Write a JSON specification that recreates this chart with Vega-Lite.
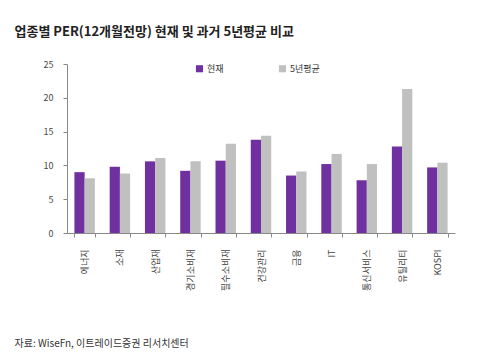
{
  "$schema": "https://vega.github.io/schema/vega-lite/v6.json",
  "width": 388,
  "height": 169,
  "autosize": {"type": "none"},
  "padding": {"left": 67, "top": 64, "right": 45, "bottom": 126},
  "background": "white",
  "config": {
    "font": "Noto Sans CJK KR",
    "view": {"stroke": null}
  },
  "data": {
    "values": [
      {"sector": "에너지", "series": "현재", "per": 9.0},
      {"sector": "에너지", "series": "5년평균", "per": 8.1},
      {"sector": "소재", "series": "현재", "per": 9.8},
      {"sector": "소재", "series": "5년평균", "per": 8.8},
      {"sector": "산업재", "series": "현재", "per": 10.6},
      {"sector": "산업재", "series": "5년평균", "per": 11.1},
      {"sector": "경기소비재", "series": "현재", "per": 9.2},
      {"sector": "경기소비재", "series": "5년평균", "per": 10.6},
      {"sector": "필수소비재", "series": "현재", "per": 10.7},
      {"sector": "필수소비재", "series": "5년평균", "per": 13.2},
      {"sector": "건강관리", "series": "현재", "per": 13.8},
      {"sector": "건강관리", "series": "5년평균", "per": 14.4},
      {"sector": "금융", "series": "현재", "per": 8.5},
      {"sector": "금융", "series": "5년평균", "per": 9.1},
      {"sector": "IT", "series": "현재", "per": 10.2},
      {"sector": "IT", "series": "5년평균", "per": 11.7},
      {"sector": "통신서비스", "series": "현재", "per": 7.8},
      {"sector": "통신서비스", "series": "5년평균", "per": 10.2},
      {"sector": "유틸리티", "series": "현재", "per": 12.8},
      {"sector": "유틸리티", "series": "5년평균", "per": 21.3},
      {"sector": "KOSPI", "series": "현재", "per": 9.7},
      {"sector": "KOSPI", "series": "5년평균", "per": 10.4}
    ]
  },
  "mark": {"type": "bar"},
  "encoding": {
    "x": {
      "field": "sector",
      "type": "nominal",
      "sort": null,
      "scale": {"paddingInner": 0.42, "paddingOuter": 0.21},
      "axis": {
        "title": "자료: WiseFn, 이트레이드증권 리서치센터",
        "titleX": -53,
        "titleY": 113,
        "titleAlign": "left",
        "titleAnchor": "start",
        "titleBaseline": "alphabetic",
        "titleFontSize": 10,
        "titleFontWeight": "normal",
        "titleColor": "#333333",
        "labelAngle": -90,
        "labelFontSize": 9,
        "labelColor": "#444444",
        "labelPadding": 12,
        "tickBand": "extent",
        "tickSize": 4,
        "tickColor": "#888888",
        "domainColor": "#888888"
      }
    },
    "xOffset": {"field": "series", "type": "nominal", "sort": ["현재", "5년평균"], "scale": {"paddingInner": 0, "paddingOuter": 0}},
    "y": {
      "field": "per",
      "type": "quantitative",
      "scale": {"domain": [0, 25]},
      "axis": {
        "title": "업종별 PER(12개월전망) 현재 및 과거 5년평균 비교",
        "titleAngle": 0,
        "titleX": -53,
        "titleY": -29,
        "titleAlign": "left",
        "titleAnchor": "start",
        "titleBaseline": "alphabetic",
        "titleFontSize": 13,
        "titleFontWeight": "bold",
        "titleColor": "#222222",
        "values": [0, 5, 10, 15, 20, 25],
        "grid": false,
        "labelFontSize": 9,
        "labelColor": "#444444",
        "labelPadding": 10,
        "tickSize": 4,
        "tickColor": "#888888",
        "domainColor": "#888888"
      }
    },
    "color": {
      "field": "series",
      "type": "nominal",
      "sort": ["현재", "5년평균"],
      "scale": {"domain": ["현재", "5년평균"], "range": ["#7030a0", "#c0c0c0"]},
      "legend": {
        "title": null,
        "orient": "none",
        "legendX": 128,
        "legendY": 0,
        "direction": "horizontal",
        "symbolType": "square",
        "symbolSize": 50,
        "symbolStrokeWidth": 0,
        "labelFontSize": 9,
        "labelColor": "#333333",
        "columnPadding": 54,
        "labelOffset": 3
      }
    }
  }
}
